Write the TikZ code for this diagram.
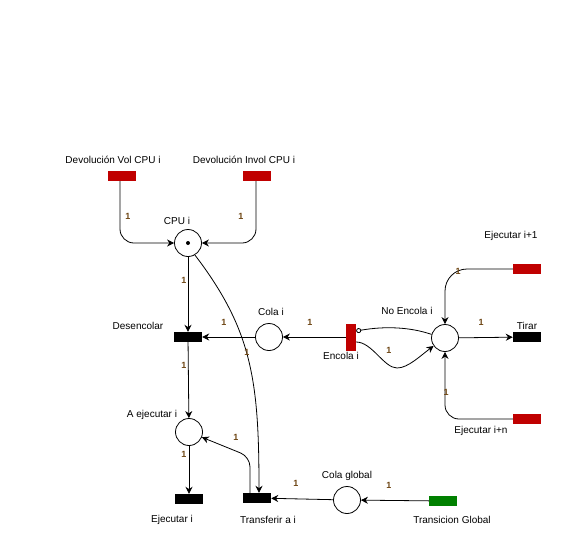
\documentclass[tikz,border=0pt]{standalone}
\usepackage{fontspec}
\setmainfont{Liberation Sans}
\usetikzlibrary{arrows.meta}

\definecolor{transred}{RGB}{192,0,0}
\definecolor{transgreen}{RGB}{0,128,0}
\definecolor{weightcol}{RGB}{110,70,20}

\tikzset{
  place/.style={draw, circle, minimum size=27pt, inner sep=0pt, line width=0.8pt},
  trans/.style={fill=black, minimum width=28pt, minimum height=10pt, inner sep=0pt},
  redtrans/.style={trans, fill=transred},
  greentrans/.style={trans, fill=transgreen},
  arc/.style={draw, line width=0.8pt, -{Stealth[length=7pt,width=7pt]}},
  inhib/.style={draw, line width=0.8pt, -{Circle[open,length=5pt,width=5pt]}},
  weight/.style={text=weightcol, inner sep=0pt, font=\fontsize{9}{10}\selectfont\bfseries},
  txt/.style={inner sep=0pt, font=\fontsize{10}{12}\selectfont},
}

\begin{document}
\begin{tikzpicture}[x=1pt,y=-1pt]
\useasboundingbox (0,0) rectangle (571,552);

% transitions
\node[redtrans] (devvol) at (122,176) {};
\node[redtrans] (devinvol) at (257,176) {};
\node[trans] (desenc) at (188,337) {};
\node[redtrans, minimum width=10pt, minimum height=27pt] (encola) at (351,337) {};
\node[trans] (tirar) at (527,337) {};
\node[redtrans] (ej1) at (527,269) {};
\node[redtrans] (ejn) at (527,419) {};
\node[trans] (ejec) at (189,499) {};
\node[trans] (transf) at (257,498) {};
\node[greentrans] (transg) at (443,501) {};

% places
\node[place] (cpu) at (188,243) {};
\fill (cpu.center) circle (2);
\node[place] (colai) at (269,337) {};
\node[place] (noenc) at (445,338) {};
\node[place] (aej) at (189,432) {};
\node[place] (colag) at (347,500) {};

% arcs
\draw[arc, rounded corners=14pt] ([xshift=-2pt]devvol.south) |- (cpu.west);
\draw[arc, rounded corners=14pt] ([xshift=-1pt]devinvol.south) |- (cpu.east);
\draw[arc] (cpu) -- (desenc);
\draw[arc] (cpu.-60) .. controls (252,330) and (259,380) .. ([xshift=2pt]transf.north);
\draw[arc] (desenc) -- (aej);
\draw[arc] (colai) -- (desenc);
\draw[arc] (encola) -- (colai);
\draw[inhib] (noenc.165) .. controls (410,327) and (385,326) .. ([yshift=6pt]encola.east);
\draw[arc] ([yshift=-5pt]encola.east) .. controls (372,342) and (384,368) .. (397,368)
    .. controls (408,368) and (420,356) .. (noenc.-145);
\draw[arc] (noenc) -- (tirar);
\draw[arc, rounded corners=22pt] (ej1.west) -| (noenc.north);
\draw[arc, rounded corners=14pt] (ejn.west) -| (noenc.south);
\draw[arc] (aej) -- (ejec);
\draw[arc, rounded corners=10pt] ([xshift=-7pt]transf.north) -- ++(0,-36) -- (aej);
\draw[arc] (colag) -- (transf);
\draw[arc] (transg) -- (colag);

% names
\node[txt] (tdevvol) at (113,160) {Devolución Vol CPU i};
\node[txt] (tdevinvol) at (244,160) {Devolución Invol CPU i};
\node[txt] (tcpu) at (177,221) {CPU i};
\node[txt] (tdesenc) at (138,326) {Desencolar};
\node[txt] (tcolai) at (271,312) {Cola i};
\node[txt] (tnoenc) at (407,311) {No Encola i};
\node[txt] (tencola) at (341,356) {Encola i};
\node[txt] (ttirar) at (527,326) {Tirar};
\node[txt] (tej1) at (511,236) {Ejecutar i+1};
\node[txt] (tejn) at (481,431) {Ejecutar i+n};
\node[txt] (taej) at (152,415) {A ejecutar i};
\node[txt] (tejec) at (172,520) {Ejecutar i};
\node[txt] (ttransf) at (268,520) {Transferir a i};
\node[txt] (tcolag) at (347,476) {Cola global};
\node[txt] (ttransg) at (452,520) {Transicion Global};

% weights
\node[weight] at (128,216) {1};
\node[weight] at (241,216) {1};
\node[weight] at (184,280) {1};
\node[weight] at (224,322) {1};
\node[weight] at (247,352) {1};
\node[weight] at (184,365) {1};
\node[weight] at (310,322) {1};
\node[weight] at (389,350) {1};
\node[weight] at (481,322) {1};
\node[weight] at (458,271) {1};
\node[weight] at (446,392) {1};
\node[weight] at (236,437) {1};
\node[weight] at (184,454) {1};
\node[weight] at (296,483) {1};
\node[weight] at (389,485) {1};
\end{tikzpicture}
\end{document}
